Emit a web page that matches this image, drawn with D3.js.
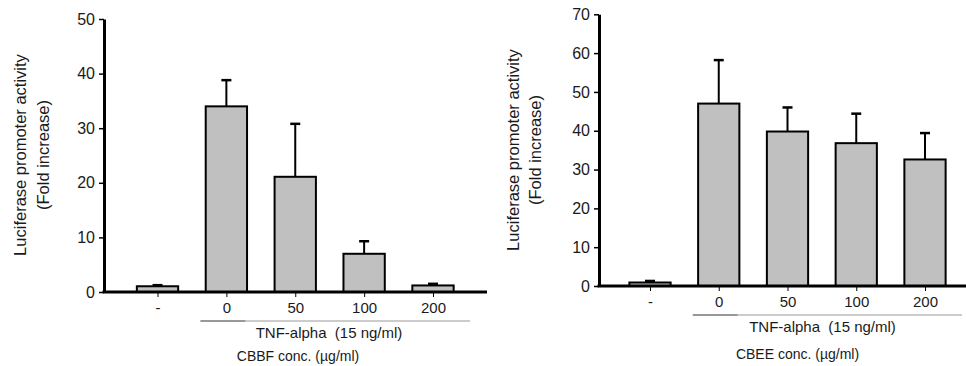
<!DOCTYPE html>
<html>
<head>
<meta charset="utf-8">
<script src="https://cdn.jsdelivr.net/npm/d3@7"></script>
<style>
  html, body { margin: 0; padding: 0; background: #fff; }
  svg { display: block; font-family: "Liberation Sans", Arial, sans-serif; }
  .txt { white-space: pre; }
</style>
</head>
<body>
<svg id="chart" width="966" height="366"></svg>
<script>
// Treatment groups along the x axis
const categories = ["-", "0", "50", "100", "200"];

// Panel A: CBBF
const cbbfMeans  = [1.05, 34.0, 21.1, 7.0, 1.2];
const cbbfErrors = [0.2, 4.8, 9.7, 2.3, 0.3];
const cbbfTicks  = [0, 10, 20, 30, 40, 50];

// Panel B: CBEE
const cbeeMeans  = [0.9, 47.0, 39.8, 36.8, 32.6];
const cbeeErrors = [0.4, 11.2, 6.2, 7.6, 6.8];
const cbeeTicks  = [0, 10, 20, 30, 40, 50, 60, 70];

const yTitle1 = "Luciferase promoter activity";
const yTitle2 = "(Fold increase)";
const bracketLabel = "TNF-alpha  (15 ng/ml)";

const svg = d3.select("#chart");

function panel(opts) {
  const g = svg.append("g");
  const x = d3.scalePoint().domain(categories).range([opts.x0, opts.x1]);
  const bw = x.step() * 0.6;
  const y = d3.scaleLinear().domain([0, opts.yMax]).range([opts.yBase, opts.yTop]);

  // y axis
  const ya = g.append("g")
    .attr("transform", `translate(${opts.axisX},0)`)
    .call(d3.axisLeft(y).tickValues(opts.ticks).tickSize(5).tickSizeOuter(0).tickPadding(4));
  ya.select(".domain").attr("stroke", "#000").attr("stroke-width", 3);
  ya.selectAll(".tick line").attr("stroke", "#000").attr("stroke-width", 1.5);
  ya.selectAll(".tick text").attr("fill", "#1a1a1a").style("font-size", "16px")
    .style("font-family", "Liberation Sans, Arial, sans-serif");

  // x axis ticks and labels
  const xa = g.append("g")
    .attr("transform", `translate(0,${opts.yBase})`)
    .call(d3.axisBottom(x).tickSize(5).tickSizeOuter(0).tickPadding(5));
  xa.select(".domain").remove();
  xa.selectAll(".tick line").attr("stroke", "#000").attr("stroke-width", 1);
  xa.selectAll(".tick text").attr("fill", "#1a1a1a").style("font-size", "15px")
    .style("font-family", "Liberation Sans, Arial, sans-serif");

  // error bars (upper only)
  const eb = g.append("g");
  categories.forEach((c, i) => {
    const cx = x(c);
    const top = y(opts.means[i] + opts.errors[i]);
    eb.append("line").attr("x1", cx).attr("x2", cx)
      .attr("y1", y(opts.means[i])).attr("y2", top)
      .attr("stroke", "#000").attr("stroke-width", 2);
    eb.append("line").attr("x1", cx - 5).attr("x2", cx + 5)
      .attr("y1", top).attr("y2", top)
      .attr("stroke", "#000").attr("stroke-width", 2.5);
  });

  // bars
  g.append("g").selectAll("rect").data(opts.means).join("rect")
    .attr("x", (d, i) => x(categories[i]) - bw / 2)
    .attr("y", d => y(d))
    .attr("width", bw)
    .attr("height", d => y(0) - y(d))
    .attr("fill", "#c0c0c0")
    .attr("stroke", "#000")
    .attr("stroke-width", 2);

  // baseline
  g.append("line")
    .attr("x1", opts.axisX - 1.5).attr("x2", opts.baseEnd)
    .attr("y1", opts.yBase).attr("y2", opts.yBase)
    .attr("stroke", "#000").attr("stroke-width", 3);

  // TNF-alpha bracket
  const bx0 = x("0") - 26, bx1 = x("200") + 37, bxMid = x("0") + 19;
  g.append("line").attr("x1", bxMid).attr("x2", bx1)
    .attr("y1", opts.bracketY).attr("y2", opts.bracketY)
    .attr("stroke", "#9a9a9a").attr("stroke-width", 1.2);
  g.append("line").attr("x1", bx0).attr("x2", bxMid)
    .attr("y1", opts.bracketY).attr("y2", opts.bracketY)
    .attr("stroke", "#333").attr("stroke-width", 1.2);
  g.append("text").attr("class", "txt")
    .attr("x", opts.bracketTextX).attr("y", opts.bracketY + 17)
    .attr("text-anchor", "middle").attr("fill", "#1a1a1a")
    .style("font-size", "15px").text(bracketLabel);

  // concentration caption
  g.append("text").attr("class", "txt")
    .attr("x", opts.captionX).attr("y", opts.captionY)
    .attr("text-anchor", "middle").attr("fill", "#1a1a1a")
    .style("font-size", "14px").text(opts.caption);

  // y title (two lines)
  [[yTitle1, opts.titleX1], [yTitle2, opts.titleX2]].forEach(([t, tx]) => {
    g.append("text")
      .attr("transform", `translate(${tx},${opts.titleY}) rotate(-90)`)
      .attr("text-anchor", "middle").attr("dominant-baseline", "central")
      .attr("fill", "#1a1a1a").style("font-size", "16.5px").text(t);
  });
}

panel({
  means: cbbfMeans, errors: cbbfErrors, ticks: cbbfTicks, yMax: 50,
  x0: 157.5, x1: 433, axisX: 104, yBase: 292, yTop: 19, baseEnd: 487,
  bracketY: 321, bracketTextX: 329, captionX: 298, captionY: 361,
  caption: "CBBF conc. (\u00b5g/ml)",
  titleX1: 20, titleX2: 43, titleY: 155
});

panel({
  means: cbeeMeans, errors: cbeeErrors, ticks: cbeeTicks, yMax: 70,
  x0: 650, x1: 925, axisX: 599, yBase: 286, yTop: 14.3, baseEnd: 966,
  bracketY: 315, bracketTextX: 822.5, captionX: 797.5, captionY: 359,
  caption: "CBEE conc. (\u00b5g/ml)",
  titleX1: 513, titleX2: 535, titleY: 150
});
</script>
</body>
</html>
